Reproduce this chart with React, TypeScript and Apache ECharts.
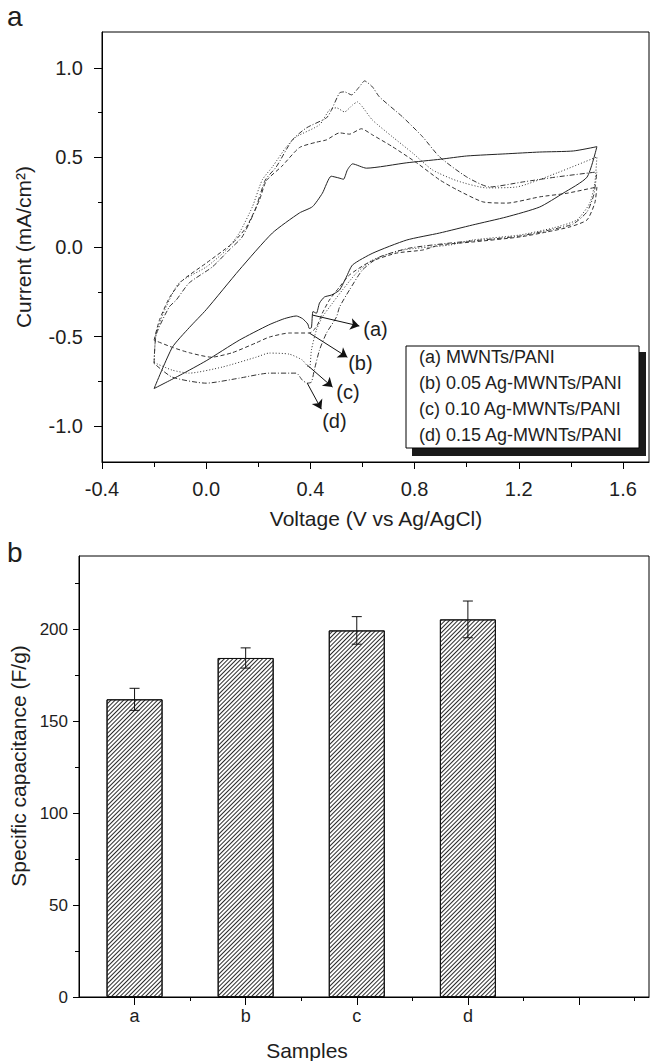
import React, { useEffect, useRef } from 'react';
import * as echarts from 'echarts';

// ---------- Panel a: cyclic voltammograms [V, mA/cm2] ----------
const curveA: number[][] = [
  [-0.2, -0.79], [-0.13, -0.56], [-0.065, -0.45], [0, -0.35], [0.127, -0.128], [0.254, 0.078],
  [0.358, 0.19], [0.408, 0.225], [0.446, 0.3], [0.48, 0.395], [0.51, 0.385], [0.527, 0.378],
  [0.542, 0.43], [0.562, 0.464], [0.615, 0.44], [0.77, 0.47], [0.9, 0.49], [1.0, 0.508],
  [1.15, 0.52], [1.28, 0.53], [1.41, 0.536], [1.5, 0.56],
  [1.462, 0.39], [1.37, 0.3], [1.28, 0.223], [1.154, 0.168], [1.023, 0.123], [0.896, 0.078],
  [0.77, 0.039], [0.64, -0.034], [0.562, -0.1], [0.538, -0.168], [0.512, -0.24], [0.481, -0.268],
  [0.454, -0.279], [0.435, -0.313], [0.423, -0.37], [0.41, -0.36], [0.404, -0.45], [0.396, -0.455],
  [0.39, -0.43], [0.37, -0.4], [0.346, -0.385], [0.3, -0.4], [0.24, -0.435], [0.127, -0.52],
  [0, -0.635], [-0.1, -0.715], [-0.2, -0.79],
];
const curveB: number[][] = [
  [-0.2, -0.52], [-0.18, -0.41], [-0.14, -0.28], [-0.09, -0.185], [0, -0.09], [0.1, 0.02],
  [0.154, 0.11], [0.204, 0.26], [0.231, 0.37], [0.29, 0.45], [0.358, 0.555], [0.423, 0.585],
  [0.462, 0.598], [0.512, 0.637], [0.55, 0.63], [0.596, 0.66], [0.638, 0.626], [0.715, 0.56],
  [0.808, 0.47], [0.896, 0.375], [0.962, 0.32], [1.062, 0.252], [1.154, 0.245], [1.281, 0.28],
  [1.385, 0.3], [1.5, 0.335],
  [1.492, 0.246], [1.462, 0.151], [1.396, 0.112], [1.308, 0.084], [1.204, 0.056], [1.023, 0.028],
  [0.896, 0.011], [0.831, -0.017], [0.731, -0.034], [0.627, -0.084], [0.55, -0.156], [0.512, -0.223],
  [0.473, -0.296], [0.446, -0.369], [0.423, -0.447], [0.396, -0.48], [0.319, -0.48], [0.242, -0.503],
  [0.19, -0.536], [0.1, -0.59], [0.02, -0.615], [-0.065, -0.59], [-0.13, -0.56], [-0.2, -0.52],
];
const curveC: number[][] = [
  [-0.2, -0.645], [-0.192, -0.48], [-0.154, -0.335], [-0.104, -0.2], [0, -0.112], [0.077, -0.017],
  [0.127, 0.078], [0.177, 0.223], [0.215, 0.374], [0.254, 0.447], [0.308, 0.559], [0.346, 0.615],
  [0.435, 0.682], [0.473, 0.765], [0.5, 0.777], [0.531, 0.754], [0.562, 0.793], [0.581, 0.81],
  [0.6, 0.782], [0.638, 0.709], [0.715, 0.615], [0.792, 0.525], [0.869, 0.43], [0.962, 0.37],
  [1.077, 0.33], [1.192, 0.335], [1.346, 0.413], [1.5, 0.503],
  [1.492, 0.358], [1.473, 0.246], [1.423, 0.151], [1.331, 0.106], [1.204, 0.067], [1.023, 0.039],
  [0.935, 0.011], [0.754, -0.017], [0.638, -0.073], [0.577, -0.145], [0.523, -0.24], [0.485, -0.313],
  [0.446, -0.391], [0.423, -0.464], [0.404, -0.575], [0.396, -0.676], [0.369, -0.631], [0.319, -0.598],
  [0.242, -0.592], [0.192, -0.615], [0.062, -0.67], [-0.065, -0.704], [-0.131, -0.687], [-0.2, -0.645],
];
const curveD: number[][] = [
  [-0.2, -0.65], [-0.192, -0.49], [-0.142, -0.335], [-0.115, -0.296], [-0.065, -0.2], [0.023, -0.112],
  [0.088, -0.017], [0.138, 0.056], [0.188, 0.207], [0.227, 0.374], [0.269, 0.447], [0.331, 0.598],
  [0.385, 0.665], [0.462, 0.721], [0.481, 0.765], [0.512, 0.86], [0.531, 0.866], [0.558, 0.849],
  [0.588, 0.894], [0.608, 0.927], [0.638, 0.894], [0.665, 0.838], [0.754, 0.726], [0.831, 0.615],
  [0.896, 0.503], [1.0, 0.391], [1.088, 0.335], [1.215, 0.363], [1.346, 0.391], [1.5, 0.419],
  [1.488, 0.291], [1.462, 0.196], [1.408, 0.128], [1.319, 0.095], [1.204, 0.061], [1.023, 0.034],
  [0.935, 0.022], [0.781, -0.006], [0.665, -0.056], [0.6, -0.128], [0.55, -0.24], [0.512, -0.335],
  [0.5, -0.391], [0.462, -0.48], [0.435, -0.575], [0.415, -0.687], [0.404, -0.754], [0.388, -0.76],
  [0.369, -0.743], [0.346, -0.704], [0.242, -0.704], [0.127, -0.732], [0, -0.76], [-0.131, -0.726],
  [-0.2, -0.65],
];
const legendLabels = ['(a) MWNTs/PANI', '(b) 0.05 Ag-MWNTs/PANI', '(c) 0.10 Ag-MWNTs/PANI', '(d) 0.15 Ag-MWNTs/PANI'];
const curveTags = ['(a)', '(b)', '(c)', '(d)'];
const arrowFrom: number[][] = [[0.408, -0.38], [0.396, -0.48], [0.388, -0.659], [0.388, -0.76]];
const arrowTo: number[][] = [[0.588, -0.441], [0.542, -0.615], [0.485, -0.782], [0.442, -0.905]];
const tagAt: number[][] = [[0.65, -0.458], [0.592, -0.648], [0.544, -0.81], [0.492, -0.972]];
const cvMajorX = [-0.4, 0, 0.4, 0.8, 1.2, 1.6];
const cvMinorX = [-0.2, 0.2, 0.6, 1.0, 1.4];
const cvMajorY = [-1, -0.5, 0, 0.5, 1];
const cvMinorY = [-0.75, -0.25, 0.25, 0.75];

// ---------- Panel b: specific capacitance ----------
const samples = ['a', 'b', 'c', 'd'];
const capacitance = [162, 184.5, 199.5, 205.5];
const capError = [6, 5.5, 7.5, 10];
const capMajorY = [0, 50, 100, 150, 200];
const capMinorY = [25, 75, 125, 175, 225];
const sampleMajorX = [1, 2, 3, 4, 5];
const sampleMinorX = [1.5, 2.5, 3.5, 4.5, 5.5];

const FONT = "'Liberation Sans', Arial, Helvetica, sans-serif";
const INK = '#1e1e1e';

function valueAxis(grid: number, min: number, max: number, ticks: number[], len: number, labels: any, position: string) {
  return {
    type: 'value', gridIndex: grid, min, max, position,
    axisLine: { show: labels !== null, onZero: false, lineStyle: { color: '#000', width: 1 } },
    axisTick: { show: true, inside: false, customValues: ticks, length: len, lineStyle: { color: '#000', width: 1 } },
    axisLabel: labels === null ? { show: false } : labels,
    splitLine: { show: false },
    minorTick: { show: false },
  };
}

export default function App() {
  const ref = useRef<HTMLDivElement>(null);
  useEffect(() => {
    const chart = echarts.init(ref.current!, null, { renderer: 'svg' });
    const dashTypes: any[] = ['solid', [4, 2.5], [1, 2], [5, 2, 1, 2]];
    const curves = [curveA, curveB, curveC, curveD];

    const lineSeries = curves.map((c, i) => ({
      type: 'line', xAxisIndex: 0, yAxisIndex: 0, data: c, showSymbol: false, symbol: 'none',
      smooth: 0.2, clip: true, silent: true,
      lineStyle: { color: i === 0 ? '#222' : '#333', width: 1, type: dashTypes[i] },
      markLine: {
        silent: true, symbol: ['none', 'arrow'], symbolSize: 9, animation: false,
        lineStyle: { color: '#111', width: 1, type: 'solid' },
        label: { show: false },
        data: [[{ coord: arrowFrom[i] }, { coord: arrowTo[i] }]],
      },
      markPoint: {
        silent: true, symbol: 'rect', symbolSize: 1, itemStyle: { color: 'rgba(0,0,0,0)' },
        label: { show: true, position: 'inside', formatter: '{b}', fontSize: 20, color: INK, fontFamily: FONT },
        data: [{ name: curveTags[i], coord: tagAt[i] }],
      },
    }));

    const legendY = [357, 383, 409, 435];
    const graphic: any[] = [
      { type: 'text', left: 7, top: 2, style: { text: 'a', font: `28px ${FONT}`, fill: INK } },
      { type: 'text', left: 7, top: 538, style: { text: 'b', font: `28px ${FONT}`, fill: INK } },
      { type: 'text', x: 23, y: 247, rotation: Math.PI / 2, style: { text: 'Current (mA/cm²)', font: `21px ${FONT}`, fill: INK, align: 'center', verticalAlign: 'middle' } },
      { type: 'text', x: 376, y: 518, style: { text: 'Voltage (V vs Ag/AgCl)', font: `21px ${FONT}`, fill: INK, align: 'center', verticalAlign: 'middle' } },
      { type: 'text', x: 18, y: 766, rotation: Math.PI / 2, style: { text: 'Specific capacitance (F/g)', font: `21px ${FONT}`, fill: INK, align: 'center', verticalAlign: 'middle' } },
      { type: 'text', x: 307, y: 1050, style: { text: 'Samples', font: `21px ${FONT}`, fill: INK, align: 'center', verticalAlign: 'middle' } },
      { type: 'rect', shape: { x: 412, y: 352, width: 234, height: 104 }, style: { fill: '#1a1a1a' }, z: 10 },
      { type: 'rect', shape: { x: 406, y: 346, width: 233, height: 102 }, style: { fill: '#fff', stroke: '#000', lineWidth: 1 }, z: 11 },
      ...legendLabels.map((t, i) => ({
        type: 'text', x: 419, y: legendY[i], z: 12,
        style: { text: t, font: `18px ${FONT}`, fill: INK, align: 'left', verticalAlign: 'middle' },
      })),
    ];

    const option: any = {
      animation: false,
      backgroundColor: '#fff',
      grid: [
        { left: 102, top: 32, width: 547, height: 430, show: true, borderColor: '#000', borderWidth: 1, backgroundColor: 'rgba(0,0,0,0)', outerBoundsMode: 'none', containLabel: false },
        { left: 79, top: 556, width: 570, height: 441, show: true, borderColor: '#000', borderWidth: 1, backgroundColor: 'rgba(0,0,0,0)', outerBoundsMode: 'none', containLabel: false },
      ],
      xAxis: [
        valueAxis(0, -0.4, 1.7, cvMajorX, 7,
          { show: true, customValues: cvMajorX, formatter: (v: number) => v.toFixed(1), fontSize: 20, color: INK, fontFamily: FONT, margin: 17 }, 'bottom'),
        valueAxis(0, -0.4, 1.7, cvMinorX, 5, null, 'bottom'),
        valueAxis(1, 0.5, 5.63, sampleMajorX, 8,
          { show: true, customValues: [1, 2, 3, 4], formatter: (v: number) => samples[Math.round(v) - 1] || '', fontSize: 18, color: INK, fontFamily: FONT, margin: 10 }, 'bottom'),
        valueAxis(1, 0.5, 5.63, sampleMinorX, 4, null, 'bottom'),
      ],
      yAxis: [
        valueAxis(0, -1.2, 1.2, cvMajorY, 8,
          { show: true, customValues: cvMajorY, formatter: (v: number) => v.toFixed(1), fontSize: 20, color: INK, fontFamily: FONT, margin: 19 }, 'left'),
        valueAxis(0, -1.2, 1.2, cvMinorY, 4, null, 'left'),
        valueAxis(1, 0, 240, capMajorY, 6,
          { show: true, customValues: capMajorY, formatter: (v: number) => String(v), fontSize: 17, color: INK, fontFamily: FONT, margin: 11 }, 'left'),
        valueAxis(1, 0, 240, capMinorY, 4, null, 'left'),
      ],
      series: [
        ...lineSeries,
        {
          type: 'bar', xAxisIndex: 2, yAxisIndex: 2, barWidth: 56, silent: true,
          data: capacitance.map((v, i) => [i + 1, v]),
          itemStyle: {
            color: '#fff', borderColor: '#111', borderWidth: 1,
            decal: { symbol: 'rect', symbolSize: 1, color: '#2a2a2a', dashArrayX: [1, 0], dashArrayY: [1, 1.6], rotation: -Math.PI / 4 },
          },
        },
        {
          type: 'custom', xAxisIndex: 2, yAxisIndex: 2, silent: true, z: 5,
          data: capacitance.map((v, i) => [i + 1, v - capError[i], v + capError[i]]),
          encode: { x: 0, y: [1, 2] },
          renderItem: (_p: any, api: any) => {
            const x = api.value(0);
            const lo = api.coord([x, api.value(1)]);
            const hi = api.coord([x, api.value(2)]);
            const hw = 5;
            const st = { stroke: '#111', lineWidth: 1 };
            return {
              type: 'group',
              children: [
                { type: 'line', shape: { x1: lo[0], y1: lo[1], x2: hi[0], y2: hi[1] }, style: st },
                { type: 'line', shape: { x1: lo[0] - hw, y1: lo[1], x2: lo[0] + hw, y2: lo[1] }, style: st },
                { type: 'line', shape: { x1: hi[0] - hw, y1: hi[1], x2: hi[0] + hw, y2: hi[1] }, style: st },
              ],
            };
          },
        },
      ],
      graphic,
    };
    chart.setOption(option);
    return () => chart.dispose();
  }, []);
  return <div ref={ref} style={{ position: 'fixed', left: 0, top: 0, width: 657, height: 1061, background: '#fff' }} />;
}
